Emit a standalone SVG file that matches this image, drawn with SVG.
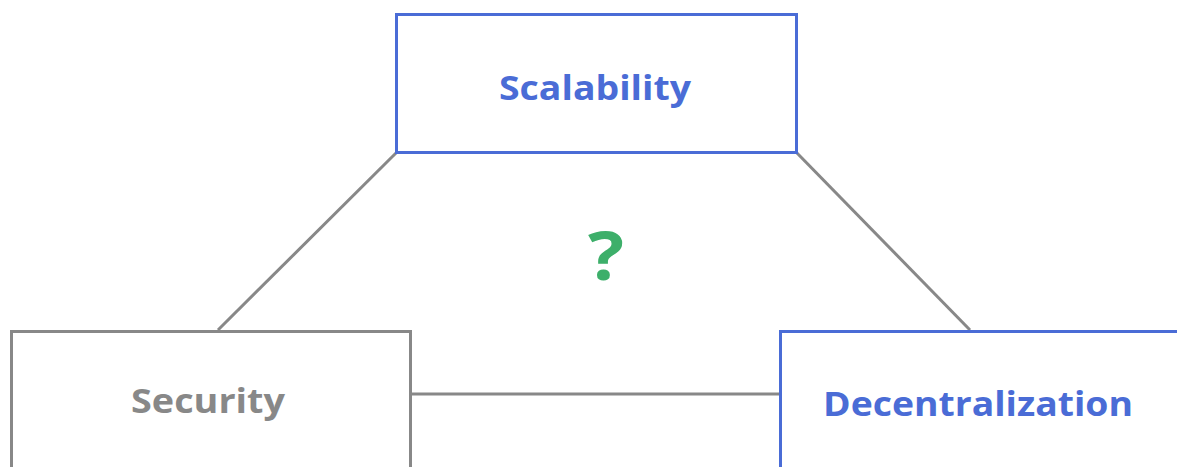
<svg xmlns="http://www.w3.org/2000/svg" width="1177" height="467" viewBox="0 0 1177 467">
  <style>
    .box { fill: #ffffff; stroke-width: 3; }
    .blue { stroke: #4a6cd6; }
    .grey { stroke: #888888; }
    .label { font-family: "Open Sans", "Liberation Sans", sans-serif; font-weight: 700; font-size: 34px; text-anchor: middle; }
    .link { stroke: #888888; stroke-width: 3; fill: none; }
  </style>
  <rect width="1177" height="467" fill="#ffffff"/>
  <g id="connectors">
    <line class="link" x1="397" y1="152" x2="218" y2="330"/>
    <line class="link" x1="796" y1="152" x2="970" y2="330"/>
    <line class="link" x1="410" y1="394" x2="780" y2="394"/>
  </g>
  <g id="scalability">
    <rect class="box blue" x="396.5" y="14.5" width="400" height="138"/>
    <text class="label" x="595" y="100" fill="#4a6cd6" textLength="192" lengthAdjust="spacingAndGlyphs">Scalability</text>
  </g>
  <g id="security">
    <rect class="box grey" x="11.5" y="331.5" width="399" height="150"/>
    <text class="label" x="208" y="413" fill="#888888" textLength="154" lengthAdjust="spacingAndGlyphs">Security</text>
  </g>
  <g id="decentralization">
    <rect class="box blue" x="780.5" y="331.5" width="420" height="150"/>
    <text class="label" x="978" y="416" fill="#4a6cd6" textLength="310" lengthAdjust="spacingAndGlyphs">Decentralization</text>
  </g>
  <g id="question">
    <text x="606" y="280" font-family="'Open Sans', 'Liberation Sans', sans-serif" font-weight="700" font-size="66" fill="#3daf6a" text-anchor="middle" textLength="36" lengthAdjust="spacingAndGlyphs">?</text>
  </g>
</svg>
